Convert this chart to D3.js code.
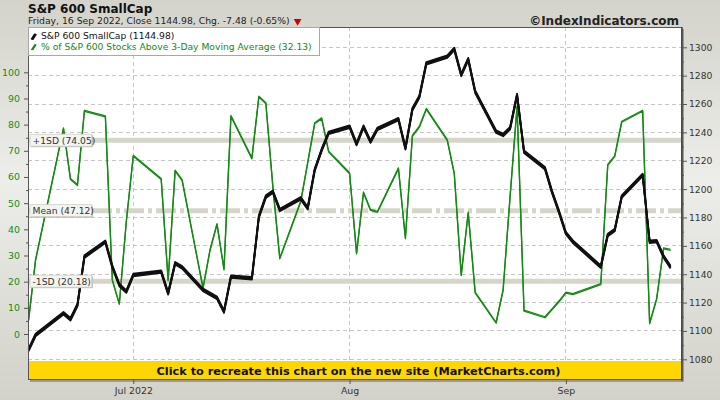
<!DOCTYPE html>
<html>
<head>
<meta charset="utf-8">
<script src="https://cdn.jsdelivr.net/npm/d3@7"></script>
<style>
  html, body { margin: 0; padding: 0; background: #e0e0da; }
  svg { display: block; }
  text { font-family: "DejaVu Sans", Verdana, sans-serif; }
</style>
</head>
<body>
<svg id="chart" width="720" height="400"></svg>
<script>
// ---------- DATA ----------
const dates = [
  "2022-06-16","2022-06-17","2022-06-21","2022-06-22","2022-06-23","2022-06-24","2022-06-27","2022-06-28","2022-06-29","2022-06-30",
  "2022-07-01","2022-07-05","2022-07-06","2022-07-07","2022-07-08","2022-07-11","2022-07-12","2022-07-13","2022-07-14","2022-07-15",
  "2022-07-18","2022-07-19","2022-07-20","2022-07-21","2022-07-22","2022-07-25","2022-07-26","2022-07-27","2022-07-28","2022-07-29",
  "2022-08-01","2022-08-02","2022-08-03","2022-08-04","2022-08-05","2022-08-08","2022-08-09","2022-08-10","2022-08-11","2022-08-12",
  "2022-08-15","2022-08-16","2022-08-17","2022-08-18","2022-08-19","2022-08-22","2022-08-23","2022-08-24","2022-08-25","2022-08-26",
  "2022-08-29","2022-08-30","2022-08-31","2022-09-01","2022-09-02","2022-09-06","2022-09-07","2022-09-08","2022-09-09","2022-09-12",
  "2022-09-13","2022-09-14","2022-09-15","2022-09-16"
];
const smallCap = [
  1086.6,1097.1,1112.4,1108.2,1118.3,1152.4,1162.9,1145.3,1132.4,1127.7,
  1139.4,1141.8,1126.5,1147.7,1144.8,1128.9,1126.1,1123.3,1113.6,1138.3,
  1137.1,1180.6,1194.7,1198.2,1185.3,1193.5,1186.5,1213.5,1227.6,1239.6,
  1244.0,1231.8,1244.0,1233.5,1242.5,1249.3,1228.8,1256.3,1265.2,1288.7,
  1293.4,1298.8,1280.5,1291.6,1268.7,1240.5,1238.2,1242.9,1266.4,1226.4,
  1214.7,1198.2,1184.1,1168.9,1162.9,1145.3,1167.7,1171.2,1194.7,1210.0,
  1162.9,1163.3,1152.46,1144.98
];
const pctAbove3 = [
  5.3,28.3,78.6,59.2,56.9,85.3,83.2,20.6,11.5,42.9,
  68.1,59.2,20.6,62.4,58.8,17.5,32.1,42.0,24.7,83.3,
  67.1,90.7,88.2,56.4,28.9,50.6,65.5,80.5,82.4,69.7,
  61.4,30.8,54.1,47.4,46.7,63.3,36.6,75.7,79.2,86.0,
  74.1,61.4,22.5,46.4,15.8,4.3,16.8,52.5,86.9,8.9,
  6.4,9.4,12.4,15.8,15.2,19.1,64.6,68.0,81.1,85.3,
  4.1,13.3,32.7,32.13
];
const bands = [
  {label: "+1SD (74.05)", value: 74.05, dash: null},
  {label: "Mean (47.12)", value: 47.12, dash: "20,4,4,4"},
  {label: "-1SD (20.18)", value: 20.18, dash: null}
];
const leftTicks = [0,10,20,30,40,50,60,70,80,90,100];
const leftMinor = [5,15,25,35,45,55,65,75,85,95];
const rightTicks = [1080,1100,1120,1140,1160,1180,1200,1220,1240,1260,1280,1300];
const rightMinor = [1090,1110,1130,1150,1170,1190,1210,1230,1250,1270,1290];
const monthTicks = ["2022-07-01","2022-08-01","2022-09-01"];
const monthLabels = ["Jul 2022","Aug","Sep"];
const titleText = "S&P 600 SmallCap";
const subtitleText = "Friday, 16 Sep 2022, Close 1144.98, Chg. -7.48 (-0.65%)";
const copyrightText = "\u00A9IndexIndicators.com";
const legendLabels = ["S&P 600 SmallCap (1144.98)", "% of S&P 600 Stocks Above 3-Day Moving Average (32.13)"];
const bannerText = "Click to recreate this chart on the new site (MarketCharts.com)";

// ---------- LAYOUT ----------
const parse = d3.utcParse("%Y-%m-%d");
const P = {left: 28, right: 682, top: 27, bottom: 380};
const GREEN = "#138a13";
const svg = d3.select("#chart");

const x = d3.scaleUtc().domain([parse("2022-06-16"), parse("2022-09-01")]).range([28.6, 565.9]);
const yR = d3.scaleLinear().domain([1080, 1300]).range([359.3, 47.3]);
const yL = d3.scaleLinear().domain([0, 100]).range([334, 72.3]);

// background gradient
const defs = svg.append("defs");
const g1 = defs.append("linearGradient").attr("id","bg").attr("x1",0).attr("y1",0).attr("x2",0).attr("y2",1);
g1.append("stop").attr("offset","0%").attr("stop-color","#d3d3cb");
g1.append("stop").attr("offset","45%").attr("stop-color","#ededea");
g1.append("stop").attr("offset","100%").attr("stop-color","#d2d2ca");
svg.append("rect").attr("width",720).attr("height",400).attr("fill","url(#bg)");

// plot shadow + area
svg.append("rect").attr("x",P.left+2).attr("y",P.top+2).attr("width",P.right-P.left).attr("height",P.bottom-P.top).attr("fill","#9a9a96");
svg.append("rect").attr("x",P.left).attr("y",P.top).attr("width",P.right-P.left).attr("height",P.bottom-P.top).attr("fill","#ffffff");

const plot = svg.append("g");
// gridlines
plot.selectAll("line.hg").data(rightTicks).join("line")
  .attr("x1",P.left).attr("x2",P.right).attr("y1",d=>yR(d)).attr("y2",d=>yR(d))
  .attr("stroke","#c6c6c6").attr("stroke-dasharray","4,3").attr("stroke-width",1).attr("shape-rendering","crispEdges");
plot.selectAll("line.vg").data(monthTicks).join("line")
  .attr("x1",d=>x(parse(d))).attr("x2",d=>x(parse(d))).attr("y1",P.top).attr("y2",P.bottom)
  .attr("stroke","#c6c6c6").attr("stroke-dasharray","4,3").attr("stroke-width",1).attr("shape-rendering","crispEdges");

// SD bands
plot.selectAll("line.band").data(bands).join("line")
  .attr("x1",P.left).attr("x2",P.right).attr("y1",d=>yL(d.value)).attr("y2",d=>yL(d.value))
  .attr("stroke","#d5d5ca").attr("stroke-width",5)
  .attr("stroke-dasharray",d=>d.dash);

// lines
const pts = dates.map((d,i)=>({date: parse(d), a: smallCap[i], b: pctAbove3[i]}));
const lineB = d3.line().x(d=>x(d.date)).y(d=>yL(d.b));
const lineA = d3.line().x(d=>x(d.date)).y(d=>yR(d.a));
[-0.5, 0.5].forEach(dy=>{
  plot.append("path").datum(pts).attr("d",lineB).attr("transform",`translate(0,${dy})`)
    .attr("fill","none").attr("stroke",GREEN).attr("stroke-width",1.3).attr("stroke-linejoin","round");
});
[-1.3,-0.45,0.45,1.3].forEach(dy=>{
  plot.append("path").datum(pts).attr("d",lineA).attr("transform",`translate(0,${dy})`)
    .attr("fill","none").attr("stroke","#111").attr("stroke-width",1.8).attr("stroke-linejoin","round");
});

// band labels
const bl = plot.selectAll("g.bl").data(bands).join("g").attr("transform",d=>`translate(30,${yL(d.value)})`);
bl.append("rect").attr("x",1).attr("y",-5).attr("width",d=>d.label.length*4.9+3).attr("height",12).attr("fill","#b8b8b0");
bl.append("rect").attr("x",0).attr("y",-6).attr("width",d=>d.label.length*4.9+3).attr("height",12)
  .attr("fill","#f4f4f0").attr("stroke","#cfcfc6").attr("stroke-width",0.8);
bl.append("text").attr("x",2.5).attr("y",3.5).attr("font-size","9.2px").attr("fill","#333").text(d=>d.label);

// banner
svg.append("rect").attr("x",P.left).attr("y",361).attr("width",P.right-P.left).attr("height",P.bottom-361).attr("fill","#ffd700");
svg.append("text").attr("x",358.5).attr("y",374.5).attr("text-anchor","middle").attr("font-size","11.3px").attr("font-weight","bold")
  .attr("fill","#111").text(bannerText);

// plot border
svg.append("rect").attr("x",P.left+0.5).attr("y",P.top+0.5).attr("width",P.right-P.left-1).attr("height",P.bottom-P.top-1)
  .attr("fill","none").attr("stroke","#555").attr("stroke-width",1);
svg.append("line").attr("x1",P.right).attr("x2",P.right).attr("y1",P.top).attr("y2",P.bottom+1).attr("stroke","#444").attr("stroke-width",1.5);

// axes
const axL = svg.append("g").attr("transform",`translate(${P.left},0)`)
  .call(d3.axisLeft(yL).tickValues(leftTicks).tickSize(4).tickPadding(4).tickFormat(d3.format("d")));
axL.select(".domain").remove();
axL.selectAll("text").attr("fill",GREEN).attr("font-size","9.4px").attr("font-family","DejaVu Sans, sans-serif");
axL.selectAll("line").attr("stroke","#555");
const axLm = svg.append("g").attr("transform",`translate(${P.left},0)`)
  .call(d3.axisLeft(yL).tickValues(leftMinor).tickSize(2).tickFormat(""));
axLm.select(".domain").remove(); axLm.selectAll("line").attr("stroke","#555");

const axR = svg.append("g").attr("transform",`translate(${P.right},0)`)
  .call(d3.axisRight(yR).tickValues(rightTicks).tickSize(5).tickPadding(2).tickFormat(d3.format("d")));
axR.select(".domain").remove();
axR.selectAll("text").attr("fill","#333").attr("font-size","9.2px").attr("font-family","DejaVu Sans, sans-serif");
axR.selectAll("line").attr("stroke","#555");
const axRm = svg.append("g").attr("transform",`translate(${P.right},0)`)
  .call(d3.axisRight(yR).tickValues(rightMinor).tickSize(2).tickFormat(""));
axRm.select(".domain").remove(); axRm.selectAll("line").attr("stroke","#555");

const axB = svg.append("g").attr("transform",`translate(0,${P.bottom})`)
  .call(d3.axisBottom(x).tickValues(monthTicks.map(parse)).tickSize(4).tickPadding(3).tickFormat((d,i)=>monthLabels[i]));
axB.select(".domain").remove();
axB.selectAll("text").attr("fill","#333").attr("font-size","9.4px").attr("font-family","DejaVu Sans, sans-serif");
axB.selectAll("line").attr("stroke","#555");

// header
svg.append("text").attr("x",28).attr("y",12.5).attr("font-size","12px").attr("font-weight","bold").attr("fill","#111").text(titleText);
const sub = svg.append("text").attr("x",28).attr("y",24).attr("font-size","9.25px").attr("fill","#222").text(subtitleText);
const subW = sub.node().getComputedTextLength();
svg.append("path").attr("d",d3.symbol(d3.symbolTriangle, 26)()).attr("fill","#cc0000")
  .attr("transform",`translate(${28+subW+8},21.2) rotate(180)`);
svg.append("text").attr("x",679).attr("y",24.5).attr("text-anchor","end").attr("font-size","12px").attr("font-weight","bold")
  .attr("fill","#222").text(copyrightText);

// legend
const lg = svg.append("g");
lg.append("rect").attr("x",28.5).attr("y",27.5).attr("width",291).attr("height",28).attr("fill","#fff").attr("stroke","#a8a8a8");
const legColors = ["#111", GREEN];
legendLabels.forEach((t,i)=>{
  const by = 39 + i*10.5;
  const icon = d3.line()([[32, by+0.5],[35.5, by-5]]);
  [-1,0,1].forEach(dx=>{
    lg.append("path").attr("d",icon).attr("transform",`translate(${dx*0.6},0)`).attr("stroke",legColors[i])
      .attr("stroke-width", i===0?1.8:1.3).attr("fill","none");
  });
  lg.append("text").attr("x",41).attr("y",by).attr("font-size","9.2px").attr("fill",legColors[i]).text(t);
});
</script>
</body>
</html>
